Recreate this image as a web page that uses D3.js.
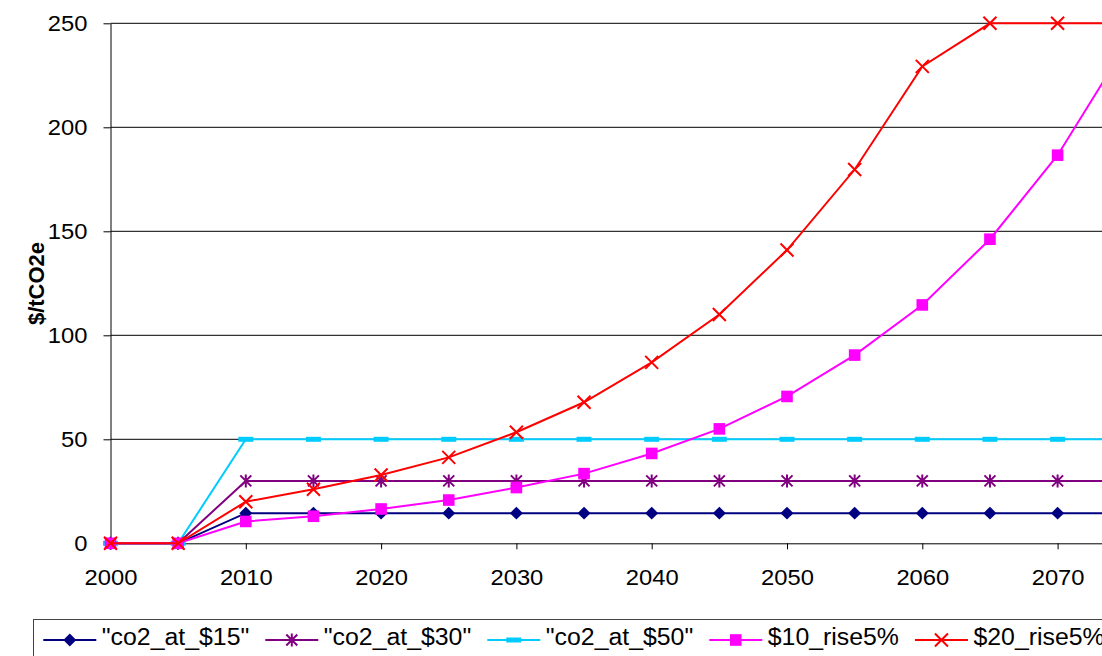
<!DOCTYPE html>
<html>
<head>
<meta charset="utf-8">
<script src="https://cdn.jsdelivr.net/npm/d3@7"></script>
<style>
  body { margin: 0; background: #fff; }
  svg { display: block; font-family: "Liberation Sans", Arial, sans-serif; }
</style>
</head>
<body>
<svg width="1102" height="656"></svg>
<script>
const years = [2000, 2005, 2010, 2015, 2020, 2025, 2030, 2035, 2040, 2045, 2050, 2055, 2060, 2065, 2070, 2075];
const co2At15 = [0, 0, 14.5, 14.5, 14.5, 14.5, 14.5, 14.5, 14.5, 14.5, 14.5, 14.5, 14.5, 14.5, 14.5, 14.5];
const co2At30 = [0, 0, 30, 30, 30, 30, 30, 30, 30, 30, 30, 30, 30, 30, 30, 30];
const co2At50 = [0, 0, 50, 50, 50, 50, 50, 50, 50, 50, 50, 50, 50, 50, 50, 50];
const rise10 = [0, 0, 10.5, 13, 16.5, 20.8, 26.8, 33.5, 43.2, 55, 70.6, 90.5, 114.6, 146.2, 186.6, 239];
const rise20 = [0, 0, 20, 26, 32.8, 41.3, 53.4, 67.8, 87, 110, 141, 179.7, 229.3, 250, 250, 250];

const seriesNames = ['"co2_at_$15"', '"co2_at_$30"', '"co2_at_$50"', "$10_rise5%", "$20_rise5%"];
const seriesColors = ["#000080", "#800080", "#00ccff", "#ff00ff", "#ff0000"];
const seriesMarkers = ["diamond", "star", "dash", "square", "x"];
const seriesValues = [co2At15, co2At30, co2At50, rise10, rise20];

const xTicks = [2000, 2010, 2020, 2030, 2040, 2050, 2060, 2070];
const yTicks = [0, 50, 100, 150, 200, 250];

const svg = d3.select("svg");
const width = +svg.attr("width");

const left = 110.5;
const pxPerYear = 13.53;
const x = d3.scaleLinear().domain([2000, 2080]).range([left, left + 80 * pxPerYear]);
const y = d3.scaleLinear().domain([0, 250]).range([543.3, 23.3]);

const stretch = 1.08;
// widen text a little, the reference glyphs are slightly wide
function stretchText(sel) {
    sel.each(function () {
        const w = this.getComputedTextLength();
        d3.select(this)
            .attr("data-w", w * stretch)
            .attr("textLength", w * stretch)
            .attr("lengthAdjust", "spacingAndGlyphs");
    });
}

// gridlines
svg.append("g")
    .selectAll("line")
    .data(yTicks.filter(d => d > 0))
    .join("line")
    .attr("x1", left)
    .attr("x2", width)
    .attr("y1", d => y(d))
    .attr("y2", d => y(d))
    .attr("stroke", "#000")
    .attr("stroke-width", 1);

// axes
const yAxis = svg.append("g")
    .attr("transform", `translate(${left},0)`)
    .call(d3.axisLeft(y).tickValues(yTicks).tickSize(7).tickSizeOuter(0).tickPadding(16));
const xAxis = svg.append("g")
    .attr("transform", `translate(0,${y(0)})`)
    .call(d3.axisBottom(x).tickValues(xTicks).tickFormat(d3.format("d")).tickSize(6).tickSizeOuter(0).tickPadding(20.5));

[yAxis, xAxis].forEach(ax => {
    ax.selectAll("path, line").attr("stroke", "#000");
    ax.selectAll("text").attr("fill", "#000").style("font-size", "22px").call(stretchText);
});

svg.append("text")
    .attr("transform", "translate(36.5,283.5) rotate(-90)")
    .attr("text-anchor", "middle")
    .attr("dominant-baseline", "central")
    .style("font-size", "22px")
    .style("font-weight", "bold")
    .text("$/tCO2e");

function drawMarker(g, type, color) {
    if (type === "diamond") {
        g.append("path")
            .attr("d", d3.symbol(d3.symbolSquare, 84)())
            .attr("transform", "rotate(45)")
            .attr("fill", color);
    } else if (type === "square") {
        g.append("rect")
            .attr("x", -5.8).attr("y", -5.8)
            .attr("width", 11.6).attr("height", 11.6)
            .attr("fill", color);
    } else if (type === "dash") {
        g.append("rect")
            .attr("x", -7.5).attr("y", -2.5)
            .attr("width", 15).attr("height", 5)
            .attr("fill", color);
    } else if (type === "x") {
        g.append("path")
            .attr("d", "M-6.5,-6.5L6.5,6.5M-6.5,6.5L6.5,-6.5")
            .attr("stroke", color)
            .attr("stroke-width", 2)
            .attr("fill", "none");
    } else if (type === "star") {
        g.append("path")
            .attr("d", "M-5.5,-5.5L5.5,5.5M-5.5,5.5L5.5,-5.5M0,-6.5L0,6.5")
            .attr("stroke", color)
            .attr("stroke-width", 2)
            .attr("fill", "none");
    }
}

const line = d3.line()
    .x(d => x(d.year))
    .y(d => y(d.value));

seriesValues.forEach((values, i) => {
    const pts = years.map((yr, j) => ({ year: yr, value: values[j] }));
    const g = svg.append("g");
    g.append("path")
        .attr("d", line(pts))
        .attr("fill", "none")
        .attr("stroke", seriesColors[i])
        .attr("stroke-width", 2);
    g.selectAll("g.m")
        .data(pts)
        .join("g")
        .attr("class", "m")
        .attr("transform", d => `translate(${x(d.year)},${y(d.value)})`)
        .each(function () { drawMarker(d3.select(this), seriesMarkers[i], seriesColors[i]); });
});

// legend
const legend = svg.append("g");
legend.append("rect")
    .attr("x", 33.5)
    .attr("y", 619.5)
    .attr("width", 1100)
    .attr("height", 60)
    .attr("fill", "#fff")
    .attr("stroke", "#444")
    .attr("stroke-width", 1);

let cursor = 43.3;
seriesNames.forEach((name, i) => {
    const item = legend.append("g");
    item.append("line")
        .attr("x1", cursor).attr("x2", cursor + 53)
        .attr("y1", 640).attr("y2", 640)
        .attr("stroke", seriesColors[i])
        .attr("stroke-width", 2);
    drawMarker(item.append("g").attr("transform", `translate(${cursor + 26.5},640)`), seriesMarkers[i], seriesColors[i]);
    const t = item.append("text")
        .attr("x", cursor + 58.5)
        .attr("y", 645)
        .style("font-size", "23px")
        .attr("fill", "#000")
        .text(name)
        .call(stretchText);
    cursor += 58.5 + (+t.attr("data-w")) + 16;
});
</script>
</body>
</html>
